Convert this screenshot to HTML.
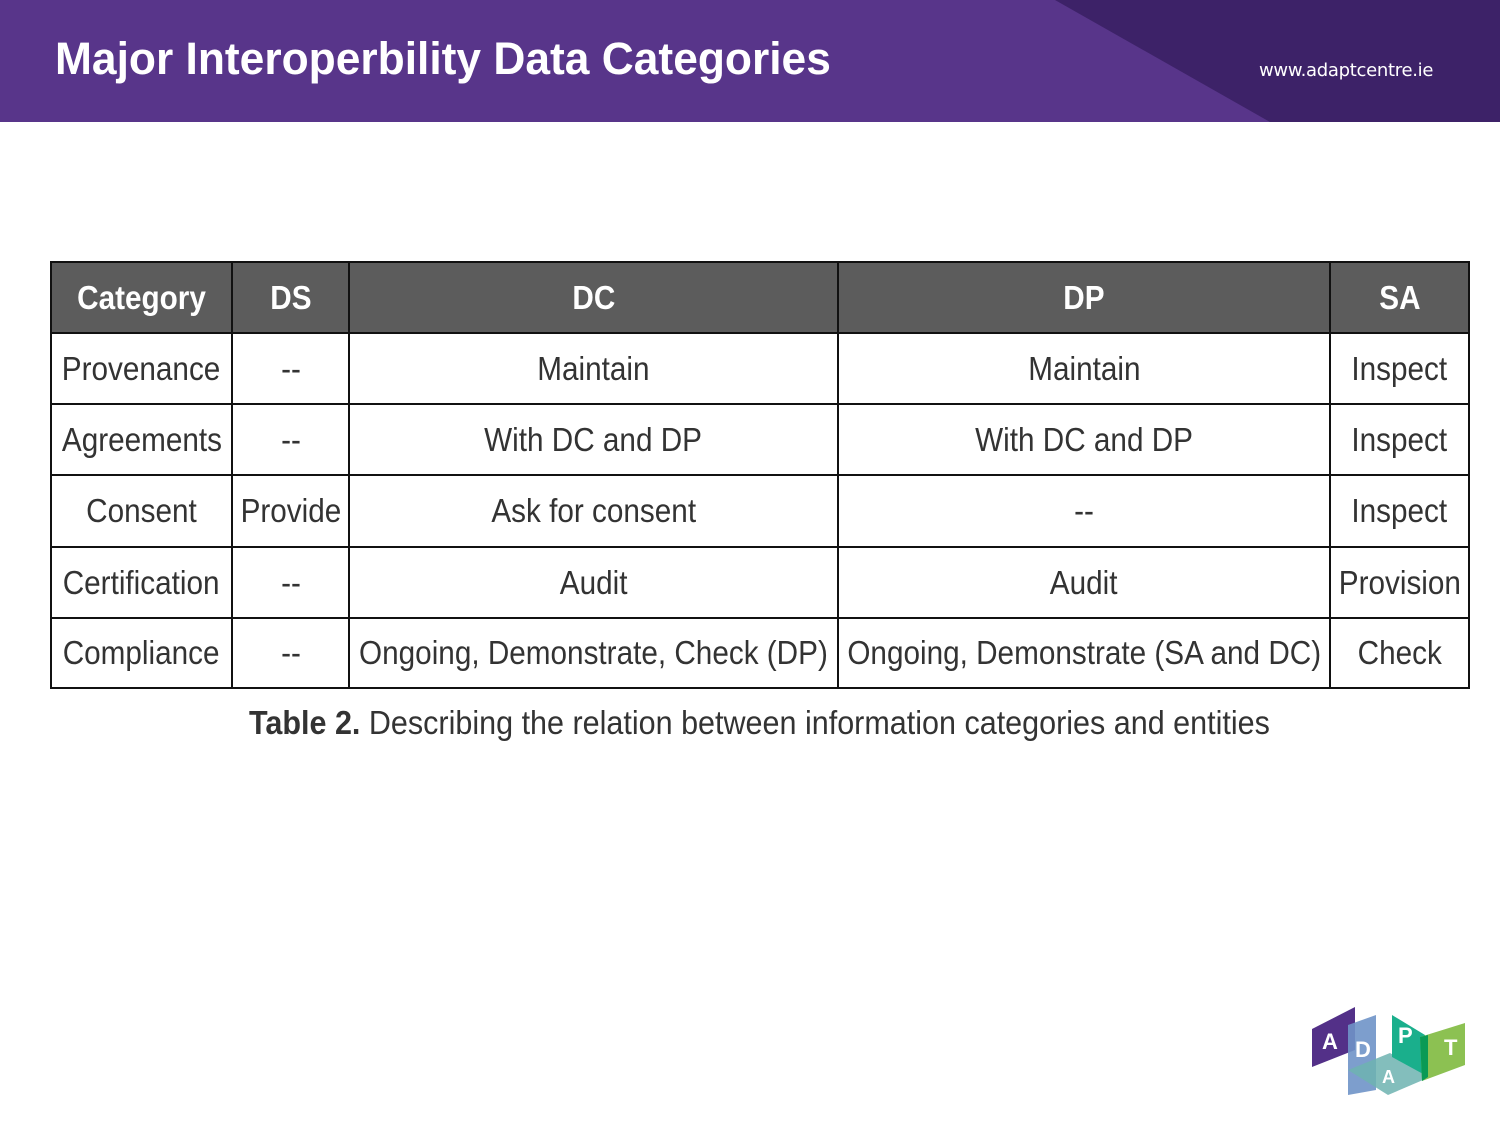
<!DOCTYPE html>
<html><head><meta charset="utf-8"><style>
html,body{margin:0;padding:0;width:1500px;height:1125px;background:#fff;overflow:hidden;position:relative;font-family:"Liberation Sans",sans-serif}
.hdr{position:absolute;left:0;top:0;width:1500px;height:122px}
.title{position:absolute;left:55px;top:33px;color:#fff;font-weight:bold;font-size:45px;font-family:"Liberation Sans",sans-serif;white-space:nowrap;transform:scaleX(0.985);transform-origin:left}
.url{position:absolute;left:1259px;top:60px;color:#fff;font-size:18px;font-family:"DejaVu Sans",sans-serif;letter-spacing:-0.3px}
.c{position:absolute;display:flex;align-items:center;justify-content:center;box-sizing:border-box;font-family:"Liberation Sans",sans-serif;font-size:33px;color:#333;white-space:nowrap}
.c span{display:inline-block;transform:scaleX(0.9)}
.h{color:#fff;font-weight:bold}
.cap{position:absolute;left:249px;top:704px;font-family:"Liberation Sans",sans-serif;font-size:33px;color:#333;white-space:nowrap;transform:scaleX(0.925);transform-origin:left}
</style></head><body>
<svg class="hdr" width="1500" height="122"><rect width="1500" height="122" fill="#58358a"/><polygon points="1055,0 1500,0 1500,122 1270,122" fill="#3d2268"/></svg>
<div class="title">Major Interoperbility Data Categories</div>
<div class="url">www.adaptcentre.ie</div>

<svg style="position:absolute;left:0;top:0" width="1500" height="700">
<rect x="51" y="262" width="1418" height="71" fill="#5c5c5c"/>
<g stroke="#111" stroke-width="2" fill="none">
<rect x="51" y="262" width="1418" height="426"/>
<line x1="232" y1="262" x2="232" y2="688"/><line x1="349" y1="262" x2="349" y2="688"/>
<line x1="838" y1="262" x2="838" y2="688"/><line x1="1330" y1="262" x2="1330" y2="688"/>
<line x1="51" y1="333" x2="1469" y2="333"/><line x1="51" y1="404" x2="1469" y2="404"/>
<line x1="51" y1="475" x2="1469" y2="475"/><line x1="51" y1="547" x2="1469" y2="547"/>
<line x1="51" y1="618" x2="1469" y2="618"/>
</g></svg>

<div class="c h" style="left:51px;top:262px;width:181px;height:71px"><span>Category</span></div>
<div class="c h" style="left:232px;top:262px;width:117px;height:71px"><span>DS</span></div>
<div class="c h" style="left:349px;top:262px;width:489px;height:71px"><span>DC</span></div>
<div class="c h" style="left:838px;top:262px;width:492px;height:71px"><span>DP</span></div>
<div class="c h" style="left:1330px;top:262px;width:139px;height:71px"><span>SA</span></div>

<div class="c" style="left:51px;top:333px;width:181px;height:71px"><span>Provenance</span></div>
<div class="c" style="left:232px;top:333px;width:117px;height:71px"><span>--</span></div>
<div class="c" style="left:349px;top:333px;width:489px;height:71px"><span>Maintain</span></div>
<div class="c" style="left:838px;top:333px;width:492px;height:71px"><span>Maintain</span></div>
<div class="c" style="left:1330px;top:333px;width:139px;height:71px"><span>Inspect</span></div>

<div class="c" style="left:51px;top:404px;width:181px;height:71px"><span>Agreements</span></div>
<div class="c" style="left:232px;top:404px;width:117px;height:71px"><span>--</span></div>
<div class="c" style="left:349px;top:404px;width:489px;height:71px"><span>With DC and DP</span></div>
<div class="c" style="left:838px;top:404px;width:492px;height:71px"><span>With DC and DP</span></div>
<div class="c" style="left:1330px;top:404px;width:139px;height:71px"><span>Inspect</span></div>

<div class="c" style="left:51px;top:475px;width:181px;height:72px"><span>Consent</span></div>
<div class="c" style="left:232px;top:475px;width:117px;height:72px"><span>Provide</span></div>
<div class="c" style="left:349px;top:475px;width:489px;height:72px"><span>Ask for consent</span></div>
<div class="c" style="left:838px;top:475px;width:492px;height:72px"><span>--</span></div>
<div class="c" style="left:1330px;top:475px;width:139px;height:72px"><span>Inspect</span></div>

<div class="c" style="left:51px;top:547px;width:181px;height:71px"><span>Certification</span></div>
<div class="c" style="left:232px;top:547px;width:117px;height:71px"><span>--</span></div>
<div class="c" style="left:349px;top:547px;width:489px;height:71px"><span>Audit</span></div>
<div class="c" style="left:838px;top:547px;width:492px;height:71px"><span>Audit</span></div>
<div class="c" style="left:1330px;top:547px;width:139px;height:71px"><span>Provision</span></div>

<div class="c" style="left:51px;top:618px;width:181px;height:70px"><span>Compliance</span></div>
<div class="c" style="left:232px;top:618px;width:117px;height:70px"><span>--</span></div>
<div class="c" style="left:349px;top:618px;width:489px;height:70px"><span>Ongoing, Demonstrate, Check (DP)</span></div>
<div class="c" style="left:838px;top:618px;width:492px;height:70px"><span>Ongoing, Demonstrate (SA and DC)</span></div>
<div class="c" style="left:1330px;top:618px;width:139px;height:70px"><span>Check</span></div>

<div class="cap"><b>Table 2.</b> Describing the relation between information categories and entities</div>

<svg style="position:absolute;left:1300px;top:995px" width="180" height="110">
<polygon points="12,34 55,12 55,55 12,72" fill="#533088"/>
<polygon points="48,30 76,20 76,95 48,100" fill="#6f93c8" opacity="0.9"/>
<polygon points="48,75 90,58 130,82 88,100" fill="#6db3b0" opacity="0.85"/>
<polygon points="92,20 125,40 125,80 92,62" fill="#1aaf8c"/>
<polygon points="120,42 165,28 165,70 122,86" fill="#8cc152"/>
<polygon points="120,42 128,40 128,82 122,86" fill="#0a9a55"/>
<g fill="#fff" font-family="Liberation Sans,sans-serif" font-weight="bold" font-size="22">
<text x="22" y="54">A</text><text x="55" y="62">D</text><text x="98" y="48">P</text><text x="144" y="60">T</text><text x="82" y="88" font-size="18">A</text></g>
</svg>
</body></html>
